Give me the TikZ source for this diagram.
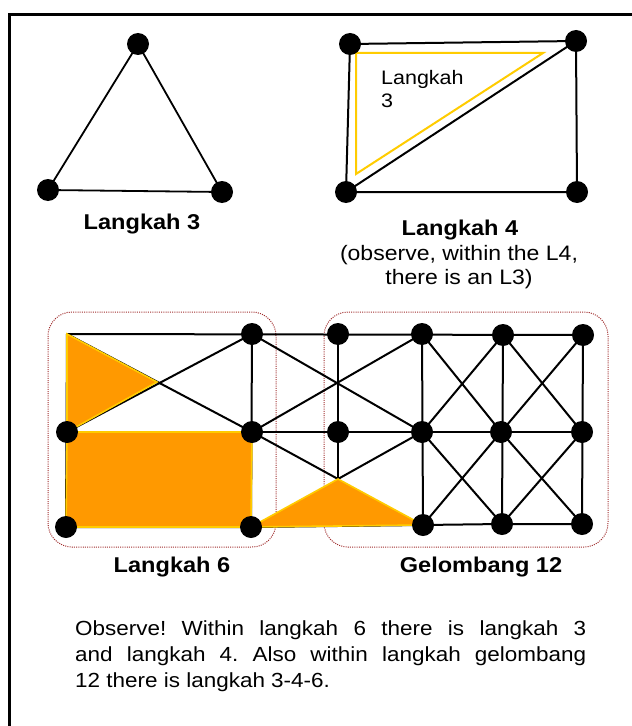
\documentclass[tikz,border=0pt]{standalone}
\usepackage{fontspec}
\setmainfont{Liberation Sans}[FakeStretch=1.1]
\definecolor{orng}{RGB}{255,153,0}
\definecolor{yel}{RGB}{255,204,0}
\definecolor{dred}{RGB}{160,45,45}
\newcommand{\hbfnt}{\fontsize{21.5}{24}\selectfont\bfseries}
\newcommand{\rgfnt}{\fontsize{21}{24}\selectfont}
\newcommand{\smfnt}{\fontsize{19.6}{23}\selectfont}
\newcommand{\bdfnt}{\fontsize{20.5}{26.2}\selectfont}
\frenchspacing
\begin{document}
\begin{tikzpicture}[x=1bp,y=-1bp,
  dot/.style={circle,fill=black,inner sep=0pt,minimum size=22bp},
  gl/.style={line width=2bp,black},
  orshape/.style={fill=orng,draw=yel,line width=1.6bp,line join=miter},
  grp/.style={draw=dred,line width=1bp,dash pattern=on 1bp off 1.2bp,rounded corners=24bp},
  lbl/.style={anchor=base,inner sep=0pt}]
\useasboundingbox (0,0) rectangle (632,726);
\fill[white] (0,0) rectangle (632,726);
% frame (clipped at right and bottom)
\draw[line width=2.2bp] (9.5,726) -- (9.5,14.5) -- (632,14.5);

% ---------- Langkah 3 ----------
\coordinate (t1) at (138,44);
\coordinate (t2) at (48,190);
\coordinate (t3) at (222,192);
\draw[line width=1.8bp] (t1) -- (t2) -- (t3) -- cycle;
\foreach \p in {t1,t2,t3} \node[dot] (d\p) at (\p) {};
\node[lbl,font=\hbfnt] (lab3) at (142,229) {Langkah 3};

% ---------- Langkah 4 ----------
\coordinate (q1) at (350,44);
\coordinate (q2) at (576,41);
\coordinate (q3) at (346,192);
\coordinate (q4) at (577,192);
\draw[gl] (q1) -- (q2) -- (q4) -- (q3) -- cycle;
\draw[gl] (q3) -- (q2);
\coordinate (y1) at (356,53);
\coordinate (y2) at (543,53);
\coordinate (y3) at (356,174);
\draw[yel,line width=2bp] (y1) -- (y2) -- (y3) -- cycle;
\foreach \p in {q1,q2,q3,q4} \node[dot] (d\p) at (\p) {};
\node[anchor=base west,inner sep=0pt,font=\smfnt] (in1) at (381,85) {Langkah};
\node[anchor=base west,inner sep=0pt,font=\smfnt] (in2) at (381,108) {3};
\node[lbl,font=\hbfnt] (lab4) at (460,235) {Langkah 4};
\node[lbl,font=\rgfnt] (lab4b) at (459,260) {(observe, within the L4,};
\node[lbl,font=\rgfnt] (lab4c) at (459,284) {there is an L3)};

% ---------- grid ----------
\coordinate (c0) at (67,334);
\coordinate (a1) at (252,334);
\coordinate (a2) at (338,334);
\coordinate (a3) at (422,334);
\coordinate (a4) at (503,335);
\coordinate (a5) at (583,335);
\coordinate (m0) at (67,432);
\coordinate (m1) at (252,432);
\coordinate (m2) at (338,432);
\coordinate (m3) at (422,432);
\coordinate (m4) at (501,432);
\coordinate (m5) at (582,432);
\coordinate (b0) at (66,527);
\coordinate (b1) at (251,527);
\coordinate (b3) at (423,525);
\coordinate (b4) at (502,524);
\coordinate (b5) at (582,524);
\coordinate (x1) at (157,382);
\coordinate (pp) at (338,479);

% group outlines
\draw[grp] (48,312) rectangle (276,547);
\draw[grp] (324,312) rectangle (608,547);

% lines
\draw[gl] (c0) -- (a5);
\draw[gl] (m0) -- (m5);
\draw[gl] (b0) -- (b1) -- (b3) -- (b4) -- (b5);
\draw[gl] (c0) -- (b0);
\draw[gl] (a1) -- (b1);
\draw[gl] (a2) -- (pp);
\draw[gl] (a3) -- (b3);
\draw[gl] (a4) -- (b4);
\draw[gl] (a5) -- (b5);
\draw[gl] (c0) -- (m1);
\draw[gl] (m0) -- (a1);
\draw[gl] (a1) -- (m3);
\draw[gl] (m1) -- (a3);
\draw[gl] (m1) -- (pp) -- (m3);
\draw[gl] (a3) -- (m4);
\draw[gl] (a4) -- (m3);
\draw[gl] (a4) -- (m5);
\draw[gl] (a5) -- (m4);
\draw[gl] (m3) -- (b4);
\draw[gl] (m4) -- (b3);
\draw[gl] (m4) -- (b5);
\draw[gl] (m5) -- (b4);

% orange shapes
\draw[orshape] (c0) -- (x1) -- (m0) -- cycle;
\draw[orshape] (m0) -- (m1) -- (b1) -- (b0) -- cycle;
\draw[orshape] (b1) -- (pp) -- (b3) -- cycle;

% dots
\foreach \p in {a1,a2,a3,a4,a5,m0,m1,m2,m3,m4,m5,b0,b1,b3,b4,b5}
  \node[dot] (d\p) at (\p) {};

\node[lbl,font=\hbfnt] (lab6) at (172,572) {Langkah 6};
\node[lbl,font=\hbfnt] (lab12) at (481,572) {Gelombang 12};

% bottom text
\node[anchor=base west,inner sep=0pt,text width=511bp,font=\bdfnt,align=justify] (body) at (75,635)
  {Observe! Within langkah 6 there is langkah 3\linebreak
   and langkah 4. Also within langkah gelombang\linebreak
   12 there is langkah 3-4-6.};
\end{tikzpicture}
\end{document}
